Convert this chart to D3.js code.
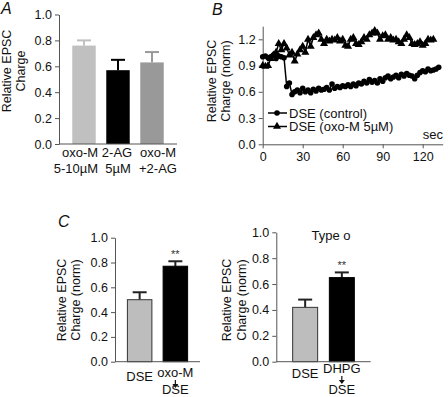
<!DOCTYPE html>
<html>
<head>
<meta charset="utf-8">
<script src="https://cdn.jsdelivr.net/npm/d3@7"></script>
<style>
  body { margin: 0; background: #fff; }
  svg { display: block; font-family: Arial, "Liberation Sans", Helvetica, sans-serif; }
  .axis path, .axis line { stroke: #555; }
  .axis text { fill: #111; font-size: 12.5px; font-family: Arial, "Liberation Sans", Helvetica, sans-serif; }
</style>
</head>
<body>
<div class="chart"></div>
<script>
"use strict";

// Panel A: bar values
var aLabels = [["oxo-M", "5-10\u00b5M"], ["2-AG", "5\u00b5M"], ["oxo-M", "+2-AG"]];
var aMeans = [0.76, 0.57, 0.63];
var aErrors = [0.04, 0.08, 0.08];
var aTicks = [0, 0.2, 0.4, 0.6, 0.8, 1.0];

// Panel B: time courses
var bControlTime = [0, 2, 4, 6, 8, 10, 12, 14, 16, 18, 20, 22, 24, 26, 28, 30, 32, 34, 36, 38, 40, 42, 44, 46, 48, 50,
    52, 54, 56, 58, 60, 62, 64, 66, 68, 70, 72, 74, 76, 78, 80, 82, 84, 86, 88, 90, 92, 94, 96, 98, 100,
    102, 104, 106, 108, 110, 112, 114, 116, 118, 120, 122, 124, 126, 128, 130, 132];
var bControlValues = [1.00, 1.01, 0.99, 1.00, 1.02, 0.98, 1.01, 1.00, 0.99, 0.66, 0.70, 0.57, 0.60, 0.62, 0.59, 0.64,
    0.60, 0.62, 0.59, 0.63, 0.61, 0.64, 0.62, 0.63, 0.65, 0.62, 0.69, 0.64, 0.66, 0.65, 0.67, 0.66, 0.68, 0.66,
    0.69, 0.67, 0.70, 0.69, 0.72, 0.70, 0.74, 0.71, 0.73, 0.70, 0.75, 0.72, 0.76, 0.78, 0.75, 0.77, 0.79, 0.76,
    0.80, 0.78, 0.81, 0.79, 0.78, 0.75, 0.79, 0.82, 0.84, 0.83, 0.86, 0.84, 0.85, 0.86, 0.88];
var bOxoTime = [0, 2, 4, 6, 8, 10, 12, 14, 16, 18, 20, 22, 24, 26, 28, 30, 32, 34, 36, 38, 40, 42, 44, 46, 48, 50,
    52, 54, 56, 58, 60, 62, 64, 66, 68, 70, 72, 74, 76, 78, 80, 82, 84, 86, 88, 90, 92, 94, 96, 98, 100,
    102, 104, 106, 108, 110, 112, 114, 116, 118, 120, 122, 124, 126, 128];
var bOxoValues = [0.90, 0.89, 0.90, 0.98, 1.02, 1.05, 1.15, 1.08, 1.15, 1.10, 1.02, 1.05, 0.95, 1.03, 1.08, 1.12,
    1.05, 1.20, 1.12, 1.22, 1.25, 1.27, 1.20, 1.15, 1.20, 1.18, 1.20, 1.19, 1.22, 1.18, 1.20, 1.13, 1.12, 1.20,
    1.22, 1.15, 1.14, 1.17, 1.22, 1.20, 1.25, 1.27, 1.30, 1.27, 1.20, 1.24, 1.25, 1.20, 1.22, 1.19, 1.20, 1.17,
    1.15, 1.20, 1.25, 1.22, 1.15, 1.14, 1.15, 1.17, 1.13, 1.15, 1.20, 1.19, 1.20];
var bXTicks = [0, 30, 60, 90, 120];
var bYTicks = [0, 0.3, 0.6, 0.9, 1.2];
var bLegend = ["DSE (control)", "DSE (oxo-M 5\u00b5M)"];

// Panel C left and right
var cLeftLabels = [["DSE"], ["oxo-M", "DSE"]];
var cLeftMeans = [0.50, 0.77];
var cLeftErrors = [0.06, 0.04];
var cRightLabels = [["DSE"], ["DHPG", "DSE"]];
var cRightMeans = [0.42, 0.65];
var cRightErrors = [0.06, 0.04];
var cTicks = [0, 0.2, 0.4, 0.6, 0.8, 1.0];

var width = 448, height = 397;

var svg = d3.select(".chart").append("svg")
    .attr("width", width)
    .attr("height", height);

function panelLetter(txt, x, y)
{
    svg.append("text")
        .attr("x", x).attr("y", y)
        .attr("font-size", "16px")
        .attr("font-style", "italic")
        .attr("fill", "#111")
        .text(txt);
}

function yTitle(lines, xs, cy)
{
    lines.forEach(function(l, i) {
        svg.append("text")
            .attr("transform", "translate(" + xs[i] + "," + cy + ") rotate(-90)")
            .attr("text-anchor", "middle")
            .attr("font-size", "12.5px")
            .attr("fill", "#111")
            .text(l);
    });
}

function yAxis(scale, x, ticks)
{
    svg.append("g")
        .attr("class", "axis")
        .attr("transform", "translate(" + x + ",0)")
        .call(d3.axisLeft(scale).tickValues(ticks).tickFormat(d3.format(".1f")).tickSize(4).tickSizeOuter(0).tickPadding(3));
}

// draws a bar panel
function barPanel(opts)
{
    var x = d3.scaleBand()
        .domain(d3.range(opts.means.length))
        .range(opts.xRange)
        .paddingInner(opts.pi)
        .paddingOuter(opts.po);

    var y = d3.scaleLinear().domain([0, 1]).range(opts.yRange);

    var g = svg.append("g");

    // error bars (upper only)
    opts.means.forEach(function(m, i) {
        var cx = x(i) + x.bandwidth() / 2;
        g.append("line")
            .attr("x1", cx).attr("x2", cx)
            .attr("y1", y(m)).attr("y2", y(m + opts.errors[i]))
            .attr("stroke", opts.errColors[i]).attr("stroke-width", 2);
        g.append("line")
            .attr("x1", cx - 7).attr("x2", cx + 7)
            .attr("y1", y(m + opts.errors[i])).attr("y2", y(m + opts.errors[i]))
            .attr("stroke", opts.errColors[i]).attr("stroke-width", 2);
    });

    g.selectAll(".bar")
        .data(opts.means)
        .enter()
        .append("rect")
        .attr("class", "bar")
        .attr("x", function(d, i) { return x(i); })
        .attr("y", function(d) { return y(d); })
        .attr("width", x.bandwidth())
        .attr("height", function(d) { return y(0) - y(d); })
        .attr("fill", function(d, i) { return opts.colors[i]; })
        .attr("stroke", function(d, i) { return opts.strokes[i]; })
        .attr("stroke-width", 1);

    yAxis(y, opts.xRange[0], opts.ticks);

    g.append("line")
        .attr("x1", opts.xRange[0]).attr("x2", opts.xRange[1])
        .attr("y1", y(0)).attr("y2", y(0))
        .attr("stroke", "#555");

    if (opts.stars)
    {
        opts.stars.forEach(function(s, i) {
            if (!s) return;
            g.append("text")
                .attr("x", x(i) + x.bandwidth() / 2)
                .attr("y", y(opts.means[i] + opts.errors[i]) - 3)
                .attr("text-anchor", "middle")
                .attr("font-size", "11px")
                .attr("fill", "#333")
                .text(s);
        });
    }

    // category labels
    opts.labels.forEach(function(lines, i) {
        var cx = x(i) + x.bandwidth() / 2;
        if (opts.arrow && lines.length == 2)
        {
            g.append("text").attr("x", cx).attr("y", opts.arrowY[0])
                .attr("text-anchor", "middle").attr("font-size", "13px").attr("fill", "#111").text(lines[0]);
            g.append("line")
                .attr("x1", cx).attr("x2", cx)
                .attr("y1", opts.arrowY[0] + 3).attr("y2", opts.arrowY[0] + 8)
                .attr("stroke", "#111").attr("stroke-width", 1.2);
            g.append("path")
                .attr("d", "M" + (cx - 3) + "," + (opts.arrowY[0] + 7) + "L" + (cx + 3) + "," + (opts.arrowY[0] + 7) + "L" + cx + "," + (opts.arrowY[0] + 11) + "Z")
                .attr("fill", "#111");
            g.append("text").attr("x", cx).attr("y", opts.arrowY[1])
                .attr("text-anchor", "middle").attr("font-size", "13px").attr("fill", "#111").text(lines[1]);
        }
        else
        {
            lines.forEach(function(l, j) {
                var shift = opts.labelShift ? opts.labelShift[j][i] : 0;
                g.append("text")
                    .attr("x", cx + shift)
                    .attr("y", opts.labelY[j])
                    .attr("text-anchor", "middle")
                    .attr("font-size", "13px")
                    .attr("fill", "#111")
                    .text(l);
            });
        }
    });
}

//
/* Panel A */
//
panelLetter("A", 1, 14);
yTitle(["Relative EPSC", "Charge"], [11, 25], 71);
barPanel({
    means: aMeans, errors: aErrors, labels: aLabels, ticks: aTicks,
    xRange: [59, 177], yRange: [144, 14.5], pi: 0.31, po: 0.39,
    colors: ["#c0c0c0", "#000000", "#999999"],
    strokes: ["none", "none", "none"],
    errColors: ["#c0c0c0", "#000000", "#999999"],
    labelY: [157, 173],
    labelShift: [[-4, -1, 6], [-8, 0, 6]]
});

//
/* Panel B */
//
panelLetter("B", 212, 15);
yTitle(["Relative EPSC", "Charge (norm)"], [216, 230], 81);

var bx = d3.scaleLinear().domain([0, 135]).range([262.7, 442.7]);
var by = d3.scaleLinear().domain([0, 1.35]).range([144.3, 26.2]);

svg.append("g")
    .attr("class", "axis")
    .attr("transform", "translate(0," + by(0) + ")")
    .call(d3.axisBottom(bx).tickValues(bXTicks).tickSize(4).tickSizeOuter(0).tickPadding(4));

svg.append("g")
    .attr("class", "axis")
    .attr("transform", "translate(" + bx(0) + ",0)")
    .call(d3.axisLeft(by).tickValues(bYTicks).tickFormat(d3.format(".1f")).tickSize(4).tickSizeOuter(0).tickPadding(3));

svg.append("text")
    .attr("x", 443).attr("y", 139)
    .attr("text-anchor", "end")
    .attr("font-size", "13px").attr("fill", "#111")
    .text("sec");

var line = d3.line()
    .x(function(d) { return bx(d[0]); })
    .y(function(d) { return by(d[1]); });

var ctrlPts = bControlTime.map(function(t, i) { return [t, bControlValues[i]]; });
var oxoPts = bOxoTime.map(function(t, i) { return [t, bOxoValues[i]]; });

svg.append("path").datum(oxoPts)
    .attr("d", line).attr("fill", "none").attr("stroke", "#000").attr("stroke-width", 1.5);
svg.append("path").datum(ctrlPts)
    .attr("d", line).attr("fill", "none").attr("stroke", "#000").attr("stroke-width", 1.5);

var tri = d3.symbol().type(d3.symbolTriangle).size(28);

svg.selectAll(".tri")
    .data(oxoPts)
    .enter()
    .append("path")
    .attr("class", "tri")
    .attr("d", tri)
    .attr("transform", function(d) { return "translate(" + bx(d[0]) + "," + by(d[1]) + ")"; })
    .attr("fill", "#000");

svg.selectAll(".dot")
    .data(ctrlPts)
    .enter()
    .append("circle")
    .attr("class", "dot")
    .attr("cx", function(d) { return bx(d[0]); })
    .attr("cy", function(d) { return by(d[1]); })
    .attr("r", 2.8)
    .attr("fill", "#000");

// legend
bLegend.forEach(function(l, i) {
    var ly = 113 + i * 13.5;
    svg.append("line")
        .attr("x1", 268).attr("x2", 287)
        .attr("y1", ly).attr("y2", ly)
        .attr("stroke", "#000").attr("stroke-width", 1.5);
    if (i == 0)
        svg.append("circle").attr("cx", 277).attr("cy", ly).attr("r", 2.8).attr("fill", "#000");
    else
        svg.append("path").attr("d", tri).attr("transform", "translate(277," + ly + ")").attr("fill", "#000");
    svg.append("text")
        .attr("x", 289).attr("y", ly + 4.5)
        .attr("font-size", "13px").attr("fill", "#111")
        .text(l);
});

//
/* Panel C */
//
panelLetter("C", 58, 227);
yTitle(["Relative EPSC", "Charge (norm)"], [66, 80], 300);
barPanel({
    means: cLeftMeans, errors: cLeftErrors, labels: cLeftLabels, ticks: cTicks,
    xRange: [115, 200], yRange: [361.7, 237.7], pi: 0.314, po: 0.347,
    colors: ["#bdbdbd", "#000000"],
    strokes: ["#333", "#000"],
    errColors: ["#222", "#222"],
    stars: ["", "**"],
    labelY: [381],
    arrow: true, arrowY: [377, 394]
});

yTitle(["Relative EPSC", "Charge (norm)"], [231, 246], 300);
barPanel({
    means: cRightMeans, errors: cRightErrors, labels: cRightLabels, ticks: cTicks,
    xRange: [276.3, 370.7], yRange: [361.7, 232.3], pi: 0.319, po: 0.446,
    colors: ["#bdbdbd", "#000000"],
    strokes: ["#333", "#000"],
    errColors: ["#222", "#222"],
    stars: ["", "**"],
    labelY: [378],
    arrow: true, arrowY: [373, 394]
});

svg.append("text")
    .attr("x", 331).attr("y", 240)
    .attr("text-anchor", "middle")
    .attr("font-size", "13px").attr("fill", "#111")
    .text("Type o");
</script>
</body>
</html>
